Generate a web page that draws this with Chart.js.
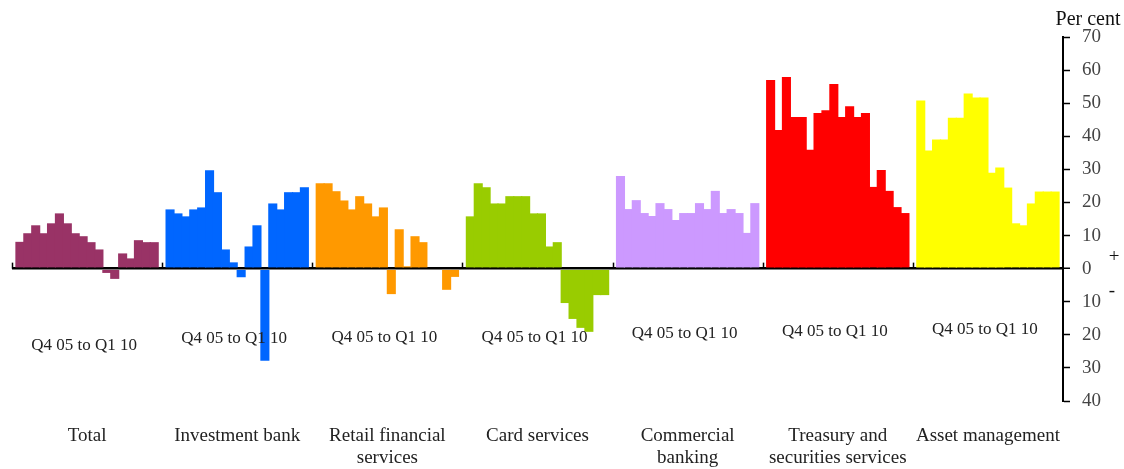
<!DOCTYPE html>
<html lang="en">
<head>
<meta charset="UTF-8">
<title>Change by line of business, Q4 05 to Q1 10</title>
<script src="https://cdn.jsdelivr.net/npm/chart.js"></script>
<style>
  body { margin: 0; background: #fff; }
  canvas { display: block; }
</style>
</head>
<body>
<canvas id="lobChart" width="1124" height="469"></canvas>
<script>
// quarterly values, Q4 05 .. Q1 10, per cent
const total          = [8.1, 10.7, 13.1, 10.7, 13.7, 16.7, 13.7, 10.7, 9.8, 8.0, 5.8, -1.3, -3.1, 4.6, 3.1, 8.6, 8.0, 8.0];
const investmentBank = [17.9, 16.7, 15.8, 17.9, 18.5, 29.7, 23.1, 5.8, 1.9, -2.6, 6.7, 13.1, -27.8, 19.7, 17.9, 23.1, 23.1, 24.6];
const retailFinancial= [25.8, 25.8, 23.4, 20.6, 17.9, 21.9, 19.7, 15.8, 18.5, -7.7, 11.9, 0.7, 9.8, 8.0, 0, 0, -6.4, -2.5];
const cardServices   = [15.8, 25.8, 24.6, 19.7, 19.7, 21.9, 21.9, 21.9, 16.7, 16.7, 6.7, 8.0, -10.4, -15.2, -17.9, -19.1, -8.0, -8.0];
const commercial     = [28.0, 18.0, 20.7, 16.8, 15.9, 19.8, 18.0, 14.7, 16.8, 16.8, 19.8, 18.0, 23.5, 16.8, 18.0, 16.8, 10.8, 19.8];
const treasury       = [57.0, 41.9, 57.9, 45.8, 45.8, 35.9, 47.0, 47.9, 55.8, 45.8, 49.1, 45.8, 47.0, 24.7, 29.8, 23.5, 18.6, 16.8];
const assetMgmt      = [50.8, 35.7, 39.0, 39.0, 45.6, 45.6, 52.9, 51.7, 51.7, 29.0, 30.6, 24.5, 13.7, 13.1, 19.7, 23.3, 23.3, 23.3];

const groupNames = ['Total', 'Investment bank', ['Retail financial', 'services'], 'Card services',
                    ['Commercial', 'banking'], ['Treasury and', 'securities services'], 'Asset management'];
const groupColours = ['#993366', '#0066FF', '#FF9900', '#99CC00', '#CC99FF', '#FF0000', '#FFFF00'];
const periodLabel = 'Q4 05 to Q1 10';
const yTicks = [-40, -30, -20, -10, 0, 10, 20, 30, 40, 50, 60, 70];

const series = [total, investmentBank, retailFinancial, cardServices, commercial, treasury, assetMgmt];
const SLOTS = 19; // 18 quarters plus a one-bar gap per group

const serif = "'Liberation Serif', 'Times New Roman', serif";

// each group is its own dataset, placed side by side on a linear x scale
const datasets = series.map((vals, g) => ({
  label: Array.isArray(groupNames[g]) ? groupNames[g].join(' ') : groupNames[g],
  data: vals.map((v, i) => ({ x: g * SLOTS + 1 + i, y: v })),
  backgroundColor: groupColours[g],
  borderWidth: 0,
  barPercentage: 1,
  categoryPercentage: 1.15
}));

// extra annotations: period labels, group divider ticks, unit and sign marks
const annotations = {
  id: 'annotations',
  afterDatasetsDraw(chart) {
    const { ctx, scales: { x, y } } = chart;
    const zero = y.getPixelForValue(0);
    ctx.save();

    // small upward ticks on the zero line between groups
    ctx.strokeStyle = '#000';
    ctx.lineWidth = 1.5;
    for (let g = 0; g < series.length; g++) {
      const px = Math.round(x.getPixelForValue(g * SLOTS)) + 0.5;
      ctx.beginPath();
      ctx.moveTo(px, zero);
      ctx.lineTo(px, zero - 6);
      ctx.stroke();
    }

    // period label under each group
    const drop = [77, 70, 69, 69, 65, 63, 61];
    ctx.fillStyle = '#222';
    ctx.font = '17px ' + serif;
    ctx.textAlign = 'center';
    ctx.textBaseline = 'middle';
    series.forEach((_, g) => {
      ctx.fillText(periodLabel, x.getPixelForValue(g * SLOTS + 9.5) - 3, zero + drop[g]);
    });

    // unit above the axis, sign marks beside zero
    ctx.font = '20px ' + serif;
    ctx.fillStyle = '#111';
    ctx.fillText('Per cent', 1088, 20);
    ctx.font = '19px ' + serif;
    ctx.fillText('+', 1114, zero - 12);
    ctx.fillText('-', 1112, zero + 22);
    ctx.restore();
  }
};

new Chart(document.getElementById('lobChart'), {
  type: 'bar',
  data: { datasets },
  plugins: [annotations],
  options: {
    responsive: false,
    animation: false,
    grouped: false,
    layout: { padding: { left: 12, right: 1, top: 37, bottom: 0 } },
    plugins: {
      legend: { display: false },
      tooltip: { enabled: false }
    },
    scales: {
      x: {
        type: 'linear',
        offset: false,
        min: 0,
        max: series.length * SLOTS,
        grid: { display: false, drawTicks: false, offset: false },
        border: { display: false },
        afterBuildTicks: scale => {
          scale.ticks = groupNames.map((_, g) => ({ value: g * SLOTS + 9.5 }));
        },
        afterFit: scale => { scale.height = 68; },
        ticks: {
          autoSkip: false,
          maxRotation: 0,
          padding: 24,
          color: '#222',
          font: { family: serif, size: 19, lineHeight: 1.15 },
          callback: (value, index) => groupNames[index]
        }
      },
      y: {
        position: 'right',
        z: 1, // keep the zero line on top of the bars
        min: -40,
        max: 70,
        afterBuildTicks: scale => {
          scale.ticks = yTicks.map(v => ({ value: v }));
        },
        afterFit: scale => { scale.width = 60; },
        border: { display: true, color: '#000', width: 2 },
        grid: {
          drawOnChartArea: true,
          color: c => (c.tick && c.tick.value === 0 ? '#000' : 'rgba(0,0,0,0)'),
          lineWidth: c => (c.tick && c.tick.value === 0 ? 2.5 : 1),
          tickColor: '#000',
          tickWidth: 1.5,
          tickLength: 7
        },
        ticks: {
          padding: 12,
          color: '#444',
          font: { family: serif, size: 19 },
          callback: v => Math.abs(v)
        }
      }
    }
  }
});
</script>
</body>
</html>
